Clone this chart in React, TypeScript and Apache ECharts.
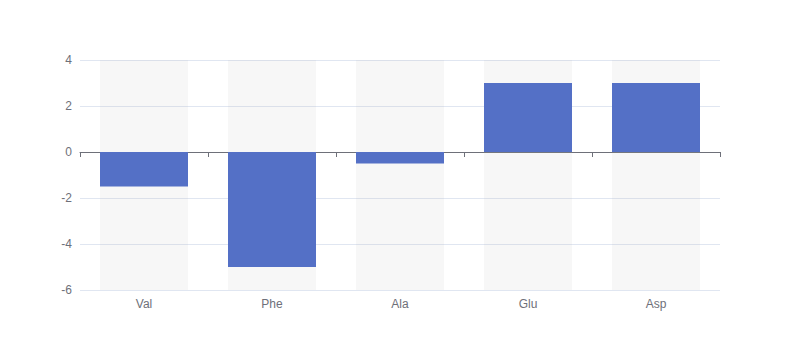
import React, { useEffect, useRef } from "react";
import * as echarts from "echarts";

const categories = ["Val", "Phe", "Ala", "Glu", "Asp"];
const values = [-1.5, -5, -0.5, 3, 3];
const yMin = -6;
const yMax = 4;
const yInterval = 2;

export default function App() {
  const ref = useRef<HTMLDivElement>(null);
  useEffect(() => {
    if (!ref.current) return;
    const chart = echarts.init(ref.current, undefined, { renderer: "svg" });
    chart.setOption({
      animation: false,
      grid: { left: 80, right: 80, top: 60, bottom: 70, containLabel: false },
      xAxis: [
        {
          type: "category",
          data: categories,
          position: "bottom",
          axisLine: { show: false, onZero: false },
          axisTick: { show: false },
          axisLabel: { color: "#6E7079", fontSize: 12 },
        },
        {
          type: "category",
          data: categories,
          position: "bottom",
          axisLine: { show: true, onZero: true, lineStyle: { color: "#6E7079" } },
          axisTick: { show: true },
          axisLabel: { show: false },
        },
      ],
      yAxis: {
        type: "value",
        min: yMin,
        max: yMax,
        interval: yInterval,
        axisLabel: { color: "#6E7079", fontSize: 12 },
        splitLine: { lineStyle: { color: "#E0E6F1" } },
      },
      series: [
        {
          type: "bar",
          data: values,
          xAxisIndex: 0,
          barWidth: 88,
          showBackground: true,
          backgroundStyle: { color: "rgba(180,180,180,0.1)" },
          itemStyle: { color: "#5470c6" },
        },
      ],
    });
    return () => chart.dispose();
  }, []);
  return (
    <div
      ref={ref}
      style={{ position: "absolute", left: 0, top: 0, width: 800, height: 360 }}
    />
  );
}
